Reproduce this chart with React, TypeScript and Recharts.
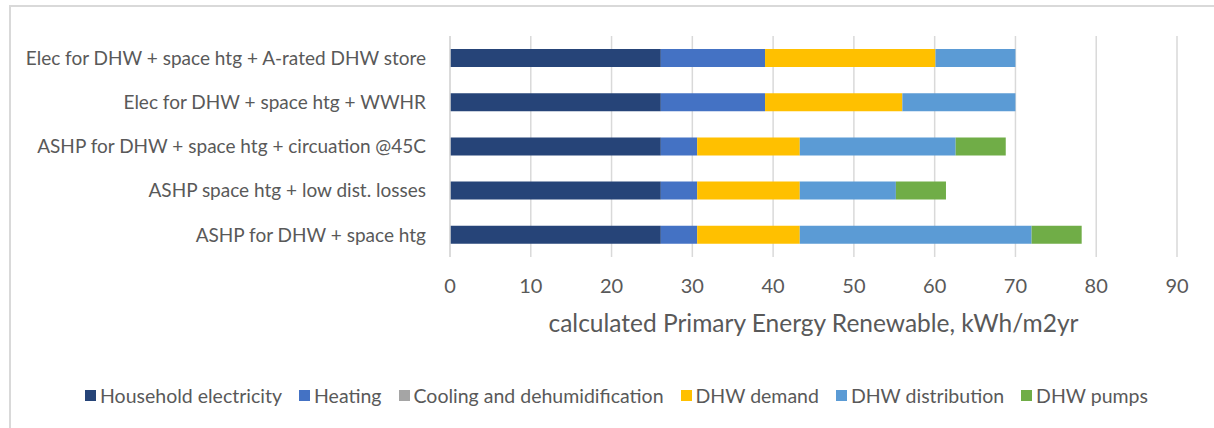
import React from "react";
import { BarChart, Bar, XAxis, YAxis, CartesianGrid, Legend } from "recharts";

const categories = [
  "Elec for DHW + space htg + A-rated DHW store",
  "Elec for DHW + space htg + WWHR",
  "ASHP for DHW + space htg + circuation @45C",
  "ASHP space htg + low dist. losses",
  "ASHP for DHW + space htg",
];

const household = [26.1, 26.1, 26.1, 26.1, 26.1];
const heating = [12.9, 12.9, 4.5, 4.5, 4.5];
const cooling = [0, 0, 0, 0, 0];
const dhwDemand = [21.1, 17.0, 12.7, 12.7, 12.7];
const dhwDistribution = [9.9, 14.0, 19.3, 11.9, 28.7];
const dhwPumps = [0, 0, 6.2, 6.2, 6.2];

const xTicks = [0, 10, 20, 30, 40, 50, 60, 70, 80, 90];

const series = [
  { key: "household", name: "Household electricity", color: "#264478" },
  { key: "heating", name: "Heating", color: "#4472C4" },
  { key: "cooling", name: "Cooling and dehumidification", color: "#A5A5A5" },
  { key: "dhwDemand", name: "DHW demand", color: "#FFC000" },
  { key: "dhwDistribution", name: "DHW distribution", color: "#5B9BD5" },
  { key: "dhwPumps", name: "DHW pumps", color: "#70AD47" },
];

const data = categories.map((name, i) => ({
  name,
  household: household[i],
  heating: heating[i],
  cooling: cooling[i],
  dhwDemand: dhwDemand[i],
  dhwDistribution: dhwDistribution[i],
  dhwPumps: dhwPumps[i],
}));

const FONT = "Lato, 'Open Sans', sans-serif";
const TEXT = "#595959";

function LegendContent() {
  return (
    <div
      style={{
        display: "flex",
        justifyContent: "center",
        gap: 17,
        fontFamily: FONT,
        fontSize: 19.5,
        color: TEXT,
        paddingLeft: 56,
      }}
    >
      {series.map((s) => (
        <span key={s.key} style={{ display: "flex", alignItems: "center", gap: 4 }}>
          <span style={{ width: 11, height: 11, background: s.color, display: "inline-block" }} />
          {s.name}
        </span>
      ))}
    </div>
  );
}

export default function App() {
  return (
    <div style={{ position: "absolute", left: 0, top: 0, width: 1214, height: 428, background: "#fff", overflow: "hidden" }}>
      <div
        style={{
          position: "absolute",
          left: 9,
          top: 5,
          width: 1300,
          height: 500,
          border: "2px solid #d9d9d9",
        }}
      />
      <BarChart
        layout="vertical"
        width={1214}
        height={428}
        data={data}
        margin={{ top: 36, right: 37, bottom: 0, left: 0 }}
        barCategoryGap={13}
      >
        <CartesianGrid horizontal={false} stroke="#d9d9d9" strokeWidth={1.5} />
        <XAxis
          type="number"
          domain={[0, 90]}
          ticks={xTicks}
          axisLine={false}
          tickLine={false}
          height={127}
          tick={{ fill: TEXT, fontSize: 20, fontFamily: FONT }}
          tickMargin={16}
          label={{
            value: "calculated Primary Energy Renewable, kWh/m2yr",
            position: "insideTop",
            offset: 58,
            fill: TEXT,
            fontSize: 24.5,
            fontFamily: FONT,
          }}
        />
        <YAxis
          type="category"
          dataKey="name"
          width={450}
          axisLine={{ stroke: "#d9d9d9", strokeWidth: 1.5 }}
          tickLine={false}
          tickMargin={18}
          tick={{ fill: TEXT, fontSize: 19, fontFamily: FONT }}
        />
        <Legend verticalAlign="bottom" height={44} content={<LegendContent />} />
        {series.map((s) => (
          <Bar
            key={s.key}
            dataKey={s.key}
            name={s.name}
            stackId="a"
            fill={s.color}
            barSize={18}
            isAnimationActive={false}
          />
        ))}
      </BarChart>
    </div>
  );
}
